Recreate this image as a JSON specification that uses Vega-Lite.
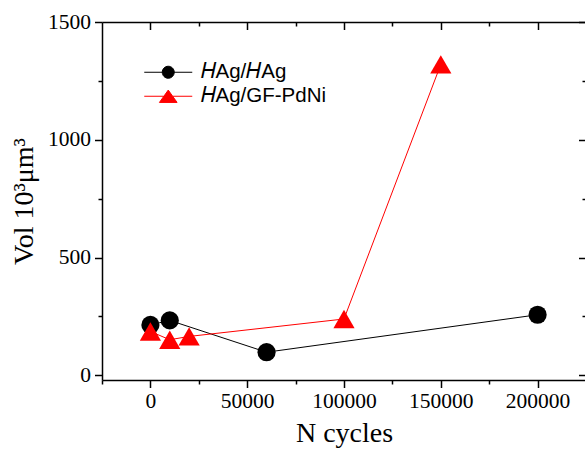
{
  "$schema": "https://vega.github.io/schema/vega-lite/v6.json",
  "width": 484,
  "height": 358,
  "autosize": {"type": "none"},
  "padding": {"left": 102, "top": 22, "right": 0, "bottom": 72},
  "background": "white",
  "config": {
    "view": {"stroke": null},
    "axis": {
      "grid": false,
      "domainColor": "black",
      "domainWidth": 1.5,
      "tickColor": "black",
      "tickWidth": 1.5,
      "labelFont": "Liberation Serif",
      "labelFontSize": 21.5,
      "labelColor": "black",
      "labelFlush": false,
      "titleFont": "Liberation Serif",
      "titleFontSize": 28,
      "titleFontWeight": "normal",
      "titleColor": "black"
    }
  },
  "data": {
    "values": [
      {"series": "HAg/HAg", "cycles": 0, "vol": 214},
      {"series": "HAg/HAg", "cycles": 10000, "vol": 233},
      {"series": "HAg/HAg", "cycles": 60000, "vol": 98},
      {"series": "HAg/HAg", "cycles": 200000, "vol": 257},
      {"series": "HAg/GF-PdNi", "cycles": 0, "vol": 186},
      {"series": "HAg/GF-PdNi", "cycles": 10000, "vol": 151},
      {"series": "HAg/GF-PdNi", "cycles": 20000, "vol": 165},
      {"series": "HAg/GF-PdNi", "cycles": 100000, "vol": 239},
      {"series": "HAg/GF-PdNi", "cycles": 150000, "vol": 1320}
    ]
  },
  "encoding": {
    "color": {
      "field": "series",
      "type": "nominal",
      "scale": {"domain": ["HAg/HAg", "HAg/GF-PdNi"], "range": ["#000000", "#ff0000"]},
      "legend": {
        "title": null,
        "orient": "none",
        "legendX": 56,
        "legendY": 40,
        "padding": 0,
        "labelFont": "Liberation Sans",
        "labelFontSize": 20.5,
        "labelColor": "black",
        "labelExpr": "datum.value === 'HAg/HAg' ? '𝐻Ag/𝐻Ag' : '𝐻Ag/GF-PdNi'",
        "symbolSize": 144,
        "labelOffset": 22,
        "rowPadding": 3,
        "symbolStrokeWidth": 1,
        "encode": {
          "symbols": {
            "update": {
              "shape": {"signal": "datum.value === 'HAg/HAg' ? 'M-4,0H4M1,0A1,1,0,1,1,-1,0A1,1,0,1,1,1,0Z' : 'M-4,0H-0.75M0.75,0H4M0,-1.03L-1.47,1.03L1.47,1.03Z'"},
              "fill": {"signal": "datum.value === 'HAg/HAg' ? '#000000' : '#ff0000'"},
              "stroke": {"signal": "datum.value === 'HAg/HAg' ? '#000000' : '#ff6a6a'"},
              "strokeWidth": {"value": 1},
              "opacity": {"value": 1},
              "fillOpacity": {"value": 1},
              "strokeOpacity": {"value": 1}
            }
          }
        }
      }
    }
  },
  "layer": [
    {
      "transform": [{"filter": "datum.series === 'HAg/HAg'"}],
      "mark": {"type": "line", "strokeWidth": 1},
      "encoding": {
        "x": {
          "field": "cycles", "type": "quantitative",
          "scale": {"domain": [-25000, 225000], "nice": false, "zero": false},
          "axis": {"orient": "bottom", "values": [0, 50000, 100000, 150000, 200000], "format": "d", "tickSize": 7.5, "labelPadding": 3, "title": "N cycles", "titlePadding": 7}
        },
        "y": {
          "field": "vol", "type": "quantitative",
          "scale": {"domain": [-20, 1500], "nice": false, "zero": false},
          "axis": {"orient": "left", "values": [0, 500, 1000, 1500], "format": "d", "tickSize": 7.5, "labelPadding": 4, "title": "Vol 10³μm³", "titlePadding": 9}
        }
      }
    },
    {
      "transform": [{"filter": "datum.series === 'HAg/GF-PdNi'"}],
      "mark": {"type": "line", "strokeWidth": 1},
      "encoding": {
        "x": {
          "field": "cycles", "type": "quantitative",
          "scale": {"domain": [-25000, 225000], "nice": false, "zero": false},
          "axis": {"orient": "bottom", "values": [-25000, 25000, 75000, 125000, 175000, 225000], "tickSize": 4, "labels": false, "domain": false, "title": null}
        },
        "y": {
          "field": "vol", "type": "quantitative",
          "scale": {"domain": [-20, 1500], "nice": false, "zero": false},
          "axis": {"orient": "left", "values": [250, 750, 1250], "tickSize": 4, "labels": false, "domain": false, "title": null}
        }
      }
    },
    {
      "transform": [{"filter": "datum.series === 'HAg/HAg'"}],
      "mark": {"type": "point", "shape": "circle", "size": 330, "filled": true, "opacity": 1},
      "encoding": {
        "x": {
          "field": "cycles", "type": "quantitative",
          "scale": {"domain": [-25000, 225000], "nice": false, "zero": false},
          "axis": {"orient": "top", "values": [0, 50000, 100000, 150000, 200000], "tickSize": -7.5, "labels": false, "domain": true, "title": null}
        },
        "y": {
          "field": "vol", "type": "quantitative",
          "scale": {"domain": [-20, 1500], "nice": false, "zero": false},
          "axis": {"orient": "right", "values": [0, 500, 1000, 1500], "tickSize": -7.5, "labels": false, "domain": true, "title": null}
        }
      }
    },
    {
      "transform": [{"filter": "datum.series === 'HAg/GF-PdNi'"}],
      "mark": {"type": "point", "shape": "triangle-up", "size": 450, "filled": true, "opacity": 1},
      "encoding": {
        "x": {
          "field": "cycles", "type": "quantitative",
          "scale": {"domain": [-25000, 225000], "nice": false, "zero": false},
          "axis": {"orient": "top", "values": [25000, 75000, 125000, 175000], "tickSize": -4, "labels": false, "domain": false, "title": null}
        },
        "y": {
          "field": "vol", "type": "quantitative",
          "scale": {"domain": [-20, 1500], "nice": false, "zero": false},
          "axis": {"orient": "right", "values": [250, 750, 1250], "tickSize": -4, "labels": false, "domain": false, "title": null}
        }
      }
    }
  ],
  "resolve": {"axis": {"x": "independent", "y": "independent"}}
}
